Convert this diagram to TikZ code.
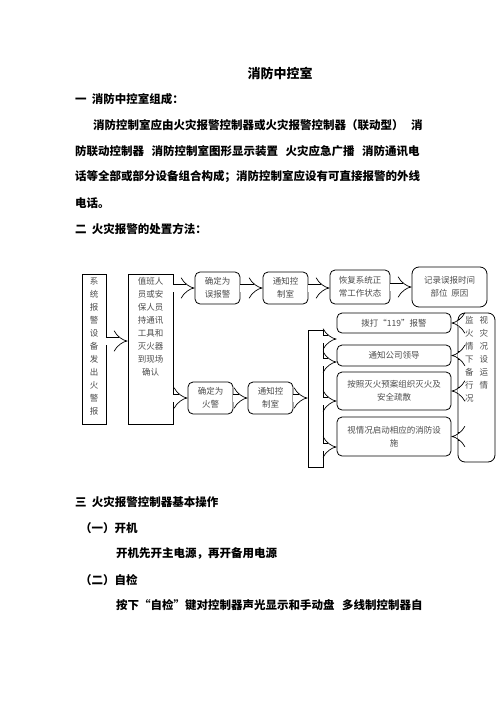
\documentclass[tikz,border=0pt]{standalone}
\usepackage{fontspec}
\setmainfont{Noto Sans CJK SC}
\usepackage{tikz}
\usetikzlibrary{arrows.meta}
\tikzset{
  bodytxt/.style={anchor=west, inner sep=0pt, font=\fontsize{11.5}{13}\selectfont\bfseries},
  flowtxt/.style={align=center, inner sep=0pt, text=black!70, font=\fontsize{8.5}{13}\selectfont},
  sqbox/.style={draw, line width=0.8pt, inner sep=0pt},
  rbox/.style={sqbox, rounded corners=5pt, flowtxt},
  hollow/.style={double, double distance=7pt, line width=0.7pt, -{Implies[length=7pt,width=18pt]}}
}
\newcommand{\gap}{\hspace{7.5pt}}

\begin{document}
\begin{tikzpicture}[x=1pt, y=-1pt]
  \useasboundingbox (0,0) rectangle (496,702);

  % Heading and text
  \node[inner sep=0pt, font=\fontsize{13}{15}\selectfont\bfseries] (title) at (280,73) {消防中控室};
  \node[bodytxt] (h1) at (75,99) {一\ \ 消防中控室组成：};
  \node[bodytxt] (p1) at (93,125) {消防控制室应由火灾报警控制器或火灾报警控制器（联动型）\gap 消};
  \node[bodytxt] (p2) at (75,151) {防联动控制器\gap 消防控制室图形显示装置\gap 火灾应急广播\gap 消防通讯电};
  \node[bodytxt] (p3) at (75,177) {话等全部或部分设备组合构成；消防控制室应设有可直接报警的外线};
  \node[bodytxt] (p4) at (75,203) {电话。};
  \node[bodytxt] (h2) at (75,229) {二\ \ 火灾报警的处置方法：};

  % Flow: left column
  \node[sqbox, minimum width=24pt, minimum height=150pt] (alarm) at (94,349) {};
  \node[flowtxt, anchor=north] (alarmtxt) at ([yshift=-4pt]alarm.north)
    {系\\统\\报\\警\\设\\备\\发\\出\\火\\警\\报};
  \node[sqbox, minimum width=45pt, minimum height=150pt] (check) at (150.5,349) {};
  \node[flowtxt, anchor=north] (checktxt) at ([yshift=-4pt]check.north)
    {值班人\\员或安\\保人员\\持通讯\\工具和\\灭火器\\到现场\\确认};

  % Flow: false alarm row
  \node[rbox, minimum width=45pt, minimum height=32pt] (false) at (217.5,288) {确定为\\误报警};
  \node[rbox, minimum width=45pt, minimum height=32pt] (tellA) at (285.5,288) {通知控\\制室};
  \node[rbox, minimum width=60pt, minimum height=34pt] (reset) at (360,287) {恢复系统正\\常工作状态};
  \node[rbox, rounded corners=7pt, minimum width=75pt, minimum height=40pt] (record) at (449.5,287)
    {记录误报时间\\部位\ \ 原因};

  % Flow: fire row
  \node[rbox, minimum width=45pt, minimum height=32pt] (fire) at (210.5,398) {确定为\\火警};
  \node[rbox, minimum width=45pt, minimum height=32pt] (tellB) at (270.5,398) {通知控\\制室};
  \node[sqbox, minimum width=15pt, minimum height=137pt] (bar) at (315.5,398.5) {};

  % Flow: actions
  \node[rbox, minimum width=114pt, minimum height=20pt] (call) at (394,323) {拨打“119”报警};
  \node[rbox, minimum width=114pt, minimum height=21pt] (boss) at (394,355.5) {通知公司领导};
  \node[rbox, minimum width=114pt, minimum height=38pt] (plan) at (394,391) {按照灭火预案组织灭火及\\安全疏散};
  \node[rbox, minimum width=114pt, minimum height=39pt] (equip) at (394,436.5) {视情况启动相应的消防设\\施};
  \node[rbox, rounded corners=7pt, minimum width=37pt, minimum height=149pt] (watch) at (476.5,387.5) {};
  \node[flowtxt, align=left, anchor=north west] (watchtxt) at (465,316)
    {监\hspace{6pt}视\\火\hspace{6pt}灾\\情\hspace{6pt}况\\下\hspace{6pt}设\\备\hspace{6pt}运\\行\hspace{6pt}情\\况};

  % Connectors
  \draw[hollow] ([yshift=8pt]alarm.east) -- ([yshift=8pt]check.west);
  \draw[hollow] (check.east |- false.west) -- (false.west);
  \draw[hollow] (false.east) -- (tellA.west);
  \draw[hollow] (tellA.east) -- (reset.west |- tellA.east);
  \draw[hollow] (reset.east) -- (record.west |- reset.east);
  \draw[hollow] (check.east |- fire.west) -- (fire.west);
  \draw[hollow] (fire.east) -- (tellB.west);
  \draw[hollow] (tellB.east) -- (bar.west |- tellB.east);
  \draw[hollow] (bar.east |- 0,339) -- (call.west |- 0,339);
  \draw[hollow] (bar.east |- 0,362) -- (boss.west |- 0,362);
  \draw[hollow] (bar.east |- 0,401) -- (plan.west |- 0,401);
  \draw[hollow] (bar.east |- 0,447) -- (equip.west |- 0,447);
  \draw[hollow] (watch.west |- call.east) -- (call.east);
  \draw[hollow] (watch.west |- boss.east) -- (boss.east);
  \draw[hollow] (watch.west |- plan.east) -- (plan.east);
  \draw[hollow] (watch.west |- equip.east) -- (equip.east);

  % Operation text
  \node[bodytxt] (h3) at (75,502) {三\ \ 火灾报警控制器基本操作};
  \node[bodytxt] (s1) at (80,528) {（一）开机};
  \node[bodytxt] (s1a) at (116,553) {开机先开主电源，再开备用电源};
  \node[bodytxt] (s2) at (80,580) {（二）自检};
  \node[bodytxt] (s2a) at (116,605) {按下“自检”键对控制器声光显示和手动盘\gap 多线制控制器自};
\end{tikzpicture}
\end{document}
